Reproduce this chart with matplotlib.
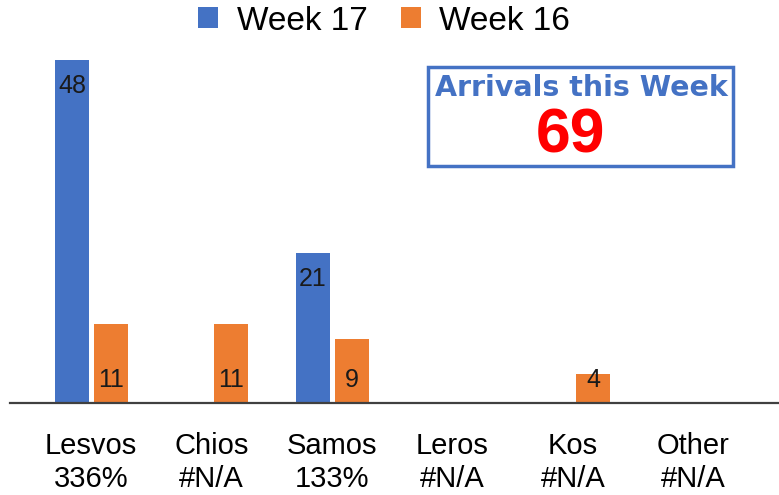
import matplotlib.pyplot as plt
from matplotlib.patches import Rectangle
import numpy as np

islands = ["Lesvos", "Chios", "Samos", "Leros", "Kos", "Other"]
change = ["336%", "#N/A", "133%", "#N/A", "#N/A", "#N/A"]
week17 = [48, 0, 21, 0, 0, 0]
week16 = [11, 11, 9, 0, 4, 0]
total_arrivals = 69

BLUE = "#4472C4"
ORANGE = "#ED7D31"

fig = plt.figure(figsize=(7.79, 4.95), dpi=100)
ax = fig.add_axes([10 / 779, 1 - 403 / 495, 769 / 779, 358 / 495])

x = np.arange(len(islands))
w = 0.282
b17 = ax.bar(x - 0.158, week17, w, color=BLUE, label="Week 17")
b16 = ax.bar(x + 0.166, week16, w, color=ORANGE, label="Week 16")

# value labels: week 17 inside the top, week 16 at the base
for rect, v in zip(b17, week17):
    if v:
        ax.annotate("%d" % v, (rect.get_x() + rect.get_width() / 2, v),
                    xytext=(0, -26), textcoords="offset pixels",
                    ha="center", va="center", fontsize=18,
                    family="Liberation Sans", color="#1a1a1a")
for rect, v in zip(b16, week16):
    if v:
        ax.annotate("%d" % v, (rect.get_x() + rect.get_width() / 2, 0),
                    xytext=(0, 23), textcoords="offset pixels",
                    ha="center", va="center", fontsize=18,
                    family="Liberation Sans", color="#1a1a1a")

ax.set_xlim(-0.672, 5.71)
ax.set_ylim(0, 50.1)
ax.set_yticks([])
ax.set_xticks(x)
ax.set_xticklabels([i + "\n" + c for i, c in zip(islands, change)],
                   fontsize=21, family="Liberation Sans", linespacing=1.22)
ax.tick_params(axis="x", length=0, pad=21)
for s in ["top", "right", "left"]:
    ax.spines[s].set_visible(False)
ax.spines["bottom"].set_color("#404040")
ax.spines["bottom"].set_linewidth(1.6)

fig.legend(handles=[b17, b16], loc="center", bbox_to_anchor=(384 / 779, 1 - 21 / 495),
           ncol=2, frameon=False, prop={"family": "Liberation Sans", "size": 24},
           handlelength=0.6, handleheight=0.6, handletextpad=0.55, columnspacing=1.0)

# summary box
fig.patches.append(Rectangle((428 / 779, 1 - 166 / 495), 305 / 779, 99 / 495,
                             transform=fig.transFigure, fill=False,
                             edgecolor=BLUE, linewidth=2.5))
fig.text(581 / 779, 1 - 88 / 495, "Arrivals this Week", ha="center", va="center",
         fontsize=20.5, fontweight="heavy", family="DejaVu Sans", color=BLUE)
fig.text(570 / 779, 1 - 136 / 495, str(total_arrivals), ha="center", va="center",
         fontsize=45, fontweight="bold", family="Liberation Sans", color="#FF0000")

plt.savefig("out.png", dpi=100)
